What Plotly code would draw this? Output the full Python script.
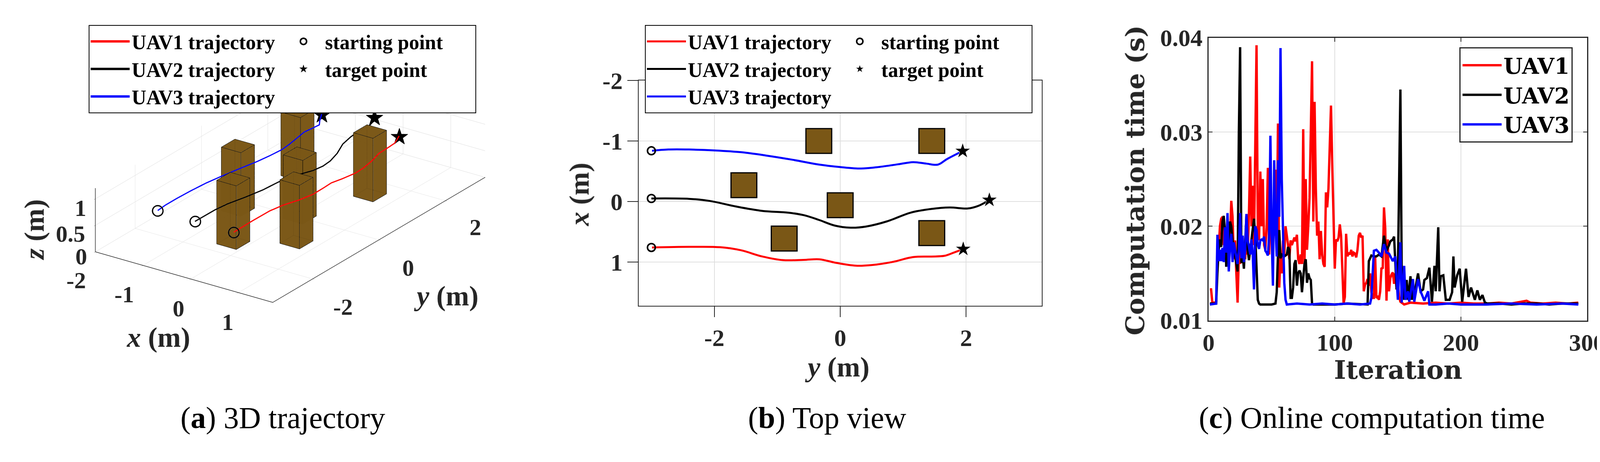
import plotly.graph_objects as go

# ---------------- trajectories (m), read from the top view ----------------
# horizontal axis of the top view is y, vertical axis is x
uav1_y = [-2.99, -2.40, -1.905, -1.574, -1.242, -0.911, -0.58, -0.331, -0.083, 0.248, 0.497, 0.828, 1.159, 1.449, 1.656, 1.80, 1.955]
uav1_x = [0.757, 0.747, 0.753, 0.804, 0.905, 0.966, 0.962, 0.952, 1.007, 1.058, 1.048, 0.997, 0.916, 0.907, 0.895, 0.844, 0.783]

uav2_y = [-3.0, -2.40, -2.07, -1.656, -1.242, -0.828, -0.58, -0.331, -0.083, 0.166, 0.414, 0.745, 1.118, 1.449, 1.739, 2.03, 2.195, 2.37]
uav2_x = [-0.051, -0.045, -0.010, 0.081, 0.153, 0.183, 0.224, 0.305, 0.397, 0.431, 0.411, 0.326, 0.183, 0.122, 0.098, 0.114, 0.071, -0.026]

uav3_y = [-2.99, -2.73, -2.40, -1.99, -1.57, -1.16, -0.745, -0.331, 0.0, 0.331, 0.58, 0.911, 1.159, 1.366, 1.553, 1.698, 1.946]
uav3_x = [-0.838, -0.859, -0.859, -0.844, -0.814, -0.757, -0.688, -0.610, -0.570, -0.545, -0.566, -0.614, -0.651, -0.627, -0.610, -0.702, -0.834]

flight_z = 1.0  # flight altitude in the 3D view

start_x = [0.757, -0.051, -0.838]
start_y = [-3.0, -3.0, -3.0]
target_x = [0.783, -0.026, -0.834]
target_y = [1.955, 2.37, 1.946]

# obstacles (square pillars)
obs_x = [-1.0, -1.0, -0.27, 0.06, 0.61, 0.52]
obs_y = [-0.34, 1.455, -1.53, 0.0, -0.89, 1.455]
obs_size = 0.41
obs_height = 1.2

# tick labels of the 3D box, with where MATLAB printed them (px)
ticks3d_text = ['1', '0.5', '0', '-2', '-1', '0', '1', '-2', '0', '2']
ticks3d_px = [(193, 530), (167, 600), (195, 662), (182, 727), (307, 765), (448, 803), (576, 841),
              (875, 799), (1045, 693), (1219, 583)]

# ---------------- online computation time (s) ----------------
uav1_it = [1, 2, 3, 5, 6, 7, 8, 9, 10, 11, 12, 13, 14, 15, 16, 17, 18, 19, 20, 21, 22, 23, 24, 25, 26, 27, 28, 29, 30,
           31, 32, 33, 34, 35, 36, 37, 38, 39, 40, 41, 42, 43, 44, 45, 46, 47, 48, 49, 50, 51, 52, 53, 54, 55, 56, 57, 58,
           59, 60, 61, 62, 63, 64, 65, 66, 67, 68, 69, 70, 71, 72, 73, 74, 75, 76, 77, 78, 79, 80, 81, 82, 83, 84, 85, 86,
           87, 88, 89, 90, 91, 92, 93, 94, 95, 96, 97, 98, 99, 100, 101, 102, 103, 104, 105, 106, 107, 108, 109, 110, 111,
           112, 113, 114, 115, 116, 117, 118, 119, 120, 121, 122, 123, 124, 125, 126, 127, 128, 129, 130, 131, 132, 133,
           134, 135, 136, 137, 138, 139, 140, 141, 142, 143, 144, 145, 146, 147, 148, 149, 150, 151, 152, 153, 155, 160,
           170, 180, 190, 200, 210, 220, 230, 240, 250, 252, 255, 265, 275, 285, 293]
uav1_t = [0.0133, 0.0133, 0.0119, 0.0119, 0.0120, 0.0165, 0.0175, 0.0200, 0.0208, 0.0210, 0.0180, 0.0195, 0.0170, 0.0185,
          0.0175, 0.0190, 0.0227, 0.0210, 0.0165, 0.0185, 0.0150, 0.0119, 0.0170, 0.0160, 0.0185, 0.0170, 0.0180, 0.0165,
          0.0190, 0.0170, 0.0215, 0.0274, 0.0200, 0.0243, 0.0180, 0.0300, 0.0392, 0.0200, 0.0185, 0.0258, 0.0200, 0.0250,
          0.0180, 0.0175, 0.0200, 0.0262, 0.0170, 0.0220, 0.0190, 0.0200, 0.0190, 0.0260, 0.0180, 0.0309, 0.0135, 0.0170,
          0.0150, 0.0185, 0.0170, 0.0200, 0.0190, 0.0180, 0.0165, 0.0185, 0.0180, 0.0185, 0.0188, 0.0184, 0.0191, 0.0165,
          0.0160, 0.0170, 0.0160, 0.0303, 0.0160, 0.0250, 0.0175, 0.0200, 0.0230, 0.0300, 0.0375, 0.0205, 0.0332, 0.0240,
          0.0190, 0.0205, 0.0165, 0.0195, 0.0170, 0.0160, 0.0157, 0.0236, 0.0220, 0.0240, 0.0280, 0.0328, 0.0266, 0.0200,
          0.0155, 0.0186, 0.0184, 0.0188, 0.0202, 0.0190, 0.0160, 0.0118, 0.0125, 0.0192, 0.0168, 0.0172, 0.0170, 0.0175,
          0.0168, 0.0172, 0.0171, 0.0167, 0.0175, 0.0190, 0.0193, 0.0188, 0.0190, 0.0131, 0.0138, 0.0140, 0.0144, 0.0137,
          0.0150, 0.0130, 0.0124, 0.0124, 0.0168, 0.0124, 0.0125, 0.0122, 0.0131, 0.0156, 0.0155, 0.0220, 0.0198, 0.0121,
          0.0186, 0.0131, 0.0145, 0.0149, 0.0151, 0.0139, 0.0150, 0.0133, 0.0140, 0.0125, 0.0120, 0.0119, 0.0117, 0.0119,
          0.0118, 0.0119, 0.0118, 0.0119, 0.0118, 0.0118, 0.0119, 0.0118, 0.0120, 0.0121, 0.0119, 0.0118, 0.0119, 0.0118,
          0.0119]

uav2_it = [1, 6, 7, 8, 9, 10, 11, 12, 13, 14, 15, 16, 17, 18, 19, 20, 21, 22, 23, 24, 25, 26, 27, 28, 29, 30, 31, 32,
           33, 34, 35, 36, 37, 38, 39, 40, 41, 45, 50, 53, 54, 55, 56, 57, 58, 60, 62, 63, 64, 65, 66, 67, 68, 69, 70, 71,
           72, 73, 74, 75, 76, 77, 78, 79, 80, 81, 82, 83, 90, 100, 110, 120, 126, 127, 129, 131, 133, 135, 137, 139, 141,
           143, 144, 146, 147, 149, 150, 152, 153, 155, 157, 158, 160, 161, 162, 164, 166, 168, 170, 171, 173, 175, 177,
           179, 180, 182, 183, 184, 186, 188, 191, 193, 194, 195, 197, 199, 201, 204, 206, 208, 211, 213, 215, 217, 219,
           221, 230, 240, 250, 260, 270, 280, 293]
uav2_t = [0.0118, 0.0118, 0.0150, 0.0175, 0.0186, 0.0178, 0.0205, 0.0211, 0.0195, 0.0157, 0.0175, 0.0185, 0.0205, 0.0200,
          0.0185, 0.0176, 0.0168, 0.0160, 0.0152, 0.0300, 0.0390, 0.0161, 0.0170, 0.0155, 0.0180, 0.0211, 0.0175, 0.0164,
          0.0175, 0.0187, 0.0200, 0.0208, 0.0190, 0.0150, 0.0122, 0.0118, 0.0117, 0.0117, 0.0117, 0.0118, 0.0130, 0.0170,
          0.0196, 0.0166, 0.0170, 0.0168, 0.0170, 0.0178, 0.0175, 0.0124, 0.0124, 0.0135, 0.0160, 0.0164, 0.0137, 0.0150,
          0.0153, 0.0150, 0.0130, 0.0145, 0.0160, 0.0165, 0.0140, 0.0150, 0.0145, 0.0143, 0.0118, 0.0117, 0.0117, 0.0117,
          0.0118, 0.0117, 0.0117, 0.0163, 0.0169, 0.0168, 0.0168, 0.0170, 0.0168, 0.0190, 0.0174, 0.0180, 0.0184, 0.0186,
          0.0189, 0.0133, 0.0149, 0.0345, 0.0159, 0.0122, 0.0143, 0.0122, 0.0147, 0.0122, 0.0131, 0.0135, 0.0150, 0.0131,
          0.0133, 0.0143, 0.0145, 0.0156, 0.0120, 0.0158, 0.0131, 0.0199, 0.0131, 0.0147, 0.0148, 0.0122, 0.0122, 0.0130,
          0.0168, 0.0135, 0.0148, 0.0155, 0.0120, 0.0155, 0.0125, 0.0135, 0.0122, 0.0132, 0.0122, 0.0127, 0.0119, 0.0118,
          0.0118, 0.0117, 0.0118, 0.0118, 0.0117, 0.0118, 0.0118]

uav3_it = [1, 6, 7, 8, 9, 10, 11, 12, 13, 14, 15, 16, 17, 18, 19, 20, 21, 22, 23, 24, 25, 26, 27, 28, 29, 30, 31, 32,
           33, 34, 35, 36, 37, 38, 39, 40, 41, 42, 43, 44, 45, 46, 47, 48, 49, 50, 51, 52, 53, 54, 55, 56, 57, 58, 59, 60,
           61, 62, 70, 80, 90, 100, 110, 120, 128, 129, 131, 133, 135, 137, 139, 141, 143, 145, 146, 148, 150, 152, 153,
           154, 155, 156, 158, 159, 162, 163, 166, 168, 171, 174, 175, 180, 190, 200, 220, 240, 260, 280, 293]
uav3_t = [0.0117, 0.0118, 0.0191, 0.0163, 0.0175, 0.0163, 0.0177, 0.0162, 0.0199, 0.0172, 0.0214, 0.0152, 0.0180, 0.0192,
          0.0162, 0.0183, 0.0175, 0.0168, 0.0160, 0.0175, 0.0214, 0.0166, 0.0190, 0.0162, 0.0175, 0.0213, 0.0185, 0.0178,
          0.0170, 0.0186, 0.0170, 0.0133, 0.0200, 0.0196, 0.0180, 0.0176, 0.0185, 0.0186, 0.0185, 0.0189, 0.0174, 0.0172,
          0.0169, 0.0190, 0.0296, 0.0190, 0.0137, 0.0270, 0.0200, 0.0168, 0.0270, 0.0210, 0.0389, 0.0250, 0.0180, 0.0140,
          0.0122, 0.0117, 0.0118, 0.0117, 0.0118, 0.0117, 0.0118, 0.0117, 0.0118, 0.0124, 0.0174, 0.0175, 0.0172, 0.0168,
          0.0181, 0.0172, 0.0171, 0.0165, 0.0163, 0.0168, 0.0122, 0.0183, 0.0119, 0.0140, 0.0158, 0.0122, 0.0131, 0.0120,
          0.0144, 0.0120, 0.0144, 0.0131, 0.0121, 0.0131, 0.0117, 0.0117, 0.0118, 0.0117, 0.0117, 0.0118, 0.0117, 0.0118,
          0.0117]

names = ['UAV1', 'UAV2', 'UAV3']
colors = ['#ff0000', '#000000', '#0000ff']
obs_color = '#7a5716'
axis_color = '#262626'
grid_color = '#dfdfdf'

PAGE_MARGIN = 8  # the html body adds this offset around the figure
W, H = 4190 - 2 * PAGE_MARGIN, 1183 - 2 * PAGE_MARGIN  # keep the page inside the window

legend_font = dict(family='Liberation Serif', size=52, color='black', weight='bold')
tick_font = dict(family='Liberation Serif', size=62, color=axis_color, weight='bold')


def px_x(p):
    return (p - PAGE_MARGIN) / W


def px_y(p):
    return 1 - (p - PAGE_MARGIN) / H


fig = go.Figure()

traj_y = [uav1_y, uav2_y, uav3_y]
traj_x = [uav1_x, uav2_x, uav3_x]

# ---------------- (a) 3D trajectory ----------------
for k in range(3):
    fig.add_trace(go.Scatter3d(x=traj_x[k], y=traj_y[k], z=[flight_z] * len(traj_x[k]),
                               mode='lines', line=dict(color=colors[k], width=6),
                               name=names[k] + ' trajectory', legend='legend', legendgroup='a_traj',
                               scene='scene'))

fig.add_trace(go.Scatter3d(x=start_x, y=start_y, z=[flight_z] * 3, mode='markers',
                           marker=dict(symbol='circle-open', size=17, color='black', line=dict(width=5)),
                           showlegend=False, scene='scene'))
fig.add_trace(go.Scatter3d(x=target_x, y=target_y, z=[flight_z] * 3, mode='text', text=['★'] * 3,
                           textposition='middle center',
                           textfont=dict(size=60, color='black'), showlegend=False, scene='scene'))

# pillars: faces + edges
vx, vy, vz, fi, fj, fk = [], [], [], [], [], []
ex, ey, ez = [], [], []
half = obs_size / 2
for cx, cy in zip(obs_x, obs_y):
    b = len(vx)
    corners = [(cx - half, cy - half), (cx + half, cy - half), (cx + half, cy + half), (cx - half, cy + half)]
    for z in (0, obs_height):
        for px_, py_ in corners:
            vx.append(px_)
            vy.append(py_)
            vz.append(z)
    tris = [(0, 1, 2), (0, 2, 3), (4, 5, 6), (4, 6, 7), (0, 1, 5), (0, 5, 4), (1, 2, 6), (1, 6, 5),
            (2, 3, 7), (2, 7, 6), (3, 0, 4), (3, 4, 7)]
    for t in tris:
        fi.append(b + t[0])
        fj.append(b + t[1])
        fk.append(b + t[2])
    for loop_z in (0, obs_height):
        for px_, py_ in corners + corners[:1]:
            ex.append(px_)
            ey.append(py_)
            ez.append(loop_z)
        ex.append(None)
        ey.append(None)
        ez.append(None)
    for px_, py_ in corners:
        ex += [px_, px_, None]
        ey += [py_, py_, None]
        ez += [0, obs_height, None]

fig.add_trace(go.Mesh3d(x=vx, y=vy, z=vz, i=fi, j=fj, k=fk, color=obs_color, opacity=0.9, flatshading=True,
                        lighting=dict(ambient=1, diffuse=0, specular=0, roughness=1, fresnel=0),
                        hoverinfo='skip', showlegend=False, scene='scene'))
fig.add_trace(go.Scatter3d(x=ex, y=ey, z=ez, mode='lines', line=dict(color='black', width=2),
                           showlegend=False, hoverinfo='skip', scene='scene'))

# legend entries for the point markers of panel (a)
fig.add_trace(go.Scatter(x=[None], y=[None], mode='markers', name='starting point',
                         marker=dict(symbol='circle-open', size=18, color='black', line=dict(width=4)),
                         legend='legend', legendgroup='a_pts', xaxis='x', yaxis='y'))
fig.add_trace(go.Scatter(x=[None], y=[None], mode='markers', name='target point',
                         marker=dict(symbol='star', size=26, color='black'),
                         legend='legend', legendgroup='a_pts', xaxis='x', yaxis='y'))

# ---------------- (b) top view ----------------
for k in range(3):
    fig.add_trace(go.Scatter(x=traj_y[k], y=traj_x[k], mode='lines', line=dict(color=colors[k], width=5, shape='spline'),
                             name=names[k] + ' trajectory', legend='legend2', legendgroup='b_traj',
                             xaxis='x', yaxis='y'))
fig.add_trace(go.Scatter(x=start_y, y=start_x, mode='markers', name='starting point',
                         marker=dict(symbol='circle-open', size=20, color='black', line=dict(width=4)),
                         legend='legend2', legendgroup='b_pts', xaxis='x', yaxis='y'))
fig.add_trace(go.Scatter(x=target_y, y=target_x, mode='markers', name='target point',
                         marker=dict(symbol='star', size=30, color='black', line=dict(width=1, color='white')),
                         legend='legend2', legendgroup='b_pts', xaxis='x', yaxis='y'))

for cx, cy in zip(obs_x, obs_y):
    fig.add_shape(type='rect', xref='x', yref='y', x0=cy - half, x1=cy + half, y0=cx - half, y1=cx + half,
                  fillcolor=obs_color, line=dict(color='black', width=3), layer='above')

# ---------------- (c) computation time ----------------
for k, (it, tt) in enumerate([(uav1_it, uav1_t), (uav2_it, uav2_t), (uav3_it, uav3_t)]):
    fig.add_trace(go.Scatter(x=it, y=tt, mode='lines', line=dict(color=colors[k], width=6),
                             name=names[k], legend='legend3', xaxis='x2', yaxis='y2'))

# ---------------- layout ----------------
scene_axis = dict(showbackground=False, showgrid=True, gridcolor=grid_color, gridwidth=2, zeroline=False,
                  showline=True, linecolor=axis_color, linewidth=3, ticks='outside', tickcolor=axis_color,
                  showticklabels=False, showspikes=False, title=dict(text=''))
eye_dir = (0.521, -0.749, 0.410)
eye_dist = 6.0
zoom_3d = 2.92  # orthographic zoom is set through the aspect ratio

fig.update_layout(
    width=W, height=H, margin=dict(l=0, r=0, t=0, b=0),
    paper_bgcolor='white', plot_bgcolor='white', showlegend=True,
    scene=dict(
        domain=dict(x=[px_x(158), px_x(1318)], y=[px_y(807), px_y(115)]),
        xaxis=dict(scene_axis, range=[-2, 1.72], tickvals=[-2, -1, 0, 1]),
        yaxis=dict(scene_axis, range=[-3.2, 3.2], tickvals=[-2, 0, 2]),
        zaxis=dict(scene_axis, range=[0, 1.2], tickvals=[0, 0.5, 1]),
        aspectmode='manual',
        aspectratio=dict(x=zoom_3d * 3.72 / 6.4, y=zoom_3d, z=zoom_3d * 1.2 / 6.4),
        camera=dict(eye=dict(x=eye_dir[0] * eye_dist, y=eye_dir[1] * eye_dist, z=eye_dir[2] * eye_dist),
                    up=dict(x=0, y=0, z=1), center=dict(x=0, y=0, z=0),
                    projection=dict(type='orthographic')),
        bgcolor='rgba(0,0,0,0)',
    ),
    xaxis=dict(domain=[px_x(1644), px_x(2691)], range=[-3.2, 3.2], anchor='y',
               tickvals=[-2, 0, 2], ticktext=['-2', '0', '2'], tickfont=tick_font,
               ticks='outside', ticklen=27, tickwidth=2, tickcolor=axis_color,
               showline=True, linecolor=axis_color, linewidth=2, mirror=True,
               showgrid=True, gridcolor=grid_color, gridwidth=2, zeroline=False),
    yaxis=dict(domain=[px_y(796), px_y(183)], range=[1.72, -2], anchor='x',
               tickvals=[-2, -1, 0, 1], ticktext=['-2', '-1', '0', '1'], tickfont=tick_font,
               ticks='outside', ticklen=27, tickwidth=2, tickcolor=axis_color,
               showline=True, linecolor=axis_color, linewidth=2, mirror=True,
               showgrid=True, gridcolor=grid_color, gridwidth=2, zeroline=False),
    xaxis2=dict(domain=[px_x(3125), px_x(4109)], range=[0, 300], anchor='y2',
                tickvals=[0, 100, 200, 300], tickfont=tick_font,
                ticks='inside', ticklen=10, tickwidth=2, tickcolor=axis_color,
                showline=True, linecolor=axis_color, linewidth=3, mirror='ticks',
                showgrid=True, gridcolor=grid_color, gridwidth=2, zeroline=False),
    yaxis2=dict(domain=[px_y(836), px_y(67)], range=[0.01, 0.04], anchor='x2',
                tickvals=[0.01, 0.02, 0.03, 0.04], ticktext=['0.01', '0.02', '0.03', '0.04'], tickfont=tick_font,
                ticks='inside', ticklen=10, tickwidth=2, tickcolor=axis_color,
                showline=True, linecolor=axis_color, linewidth=3, mirror='ticks',
                showgrid=True, gridcolor=grid_color, gridwidth=2, zeroline=False),
    legend=dict(x=px_x(214), y=px_y(32), xanchor='left', yanchor='top', orientation='h',
                traceorder='grouped', entrywidth=380, itemwidth=100, tracegroupgap=0,
                bgcolor='white', bordercolor='black', borderwidth=2, font=legend_font),
    legend2=dict(x=px_x(1660), y=px_y(32), xanchor='left', yanchor='top', orientation='h',
                 traceorder='grouped', entrywidth=380, itemwidth=100, tracegroupgap=0,
                 bgcolor='white', bordercolor='black', borderwidth=2, font=legend_font),
    legend3=dict(x=px_x(3777), y=px_y(93), xanchor='left', yanchor='top', itemwidth=100,
                 bgcolor='white', bordercolor=axis_color, borderwidth=3,
                 font=dict(family='DejaVu Serif', size=56, color='black', weight='bold')),
)

label_font = dict(family='Liberation Serif', size=72, color=axis_color, weight='bold')
label_font_c = dict(family='DejaVu Serif', size=66, color=axis_color, weight='bold')
caption_font = dict(family='Liberation Serif', size=78, color='black')
tick_font_3d = dict(family='Liberation Serif', size=60, color=axis_color, weight='bold')

annotations = [
    # (a) axis titles
    dict(text='<i>x</i> (m)', x=px_x(395), y=px_y(882), font=label_font),
    dict(text='<i>y</i> (m)', x=px_x(1143), y=px_y(769), font=label_font),
    dict(text='<i>z</i> (m)', x=px_x(73), y=px_y(590), font=label_font, textangle=-90),
    # (b) axis titles
    dict(text='<i>y</i> (m)', x=px_x(2159), y=px_y(963), font=label_font),
    dict(text='<i>x</i> (m)', x=px_x(1489), y=px_y(493), font=label_font, textangle=-90),
    # (c) axis titles
    dict(text='Iteration', x=px_x(3617), y=px_y(970), font=label_font_c),
    dict(text='Computation time (s)', x=px_x(2934), y=px_y(455), font=label_font_c, textangle=-90),
    # captions
    dict(text='(<b>a</b>) 3D trajectory', x=px_x(719), y=px_y(1100), font=caption_font),
    dict(text='(<b>b</b>) Top view', x=px_x(2134), y=px_y(1100), font=caption_font),
    dict(text='(<b>c</b>) Online computation time', x=px_x(3549), y=px_y(1100), font=caption_font),
]
for txt, (tx, ty) in zip(ticks3d_text, ticks3d_px):
    annotations.append(dict(text=txt, x=px_x(tx), y=px_y(ty), font=tick_font_3d))

for a in annotations:
    fig.add_annotation(xref='paper', yref='paper', showarrow=False, xanchor='center', yanchor='middle', **a)

fig.write_html("out.html")
